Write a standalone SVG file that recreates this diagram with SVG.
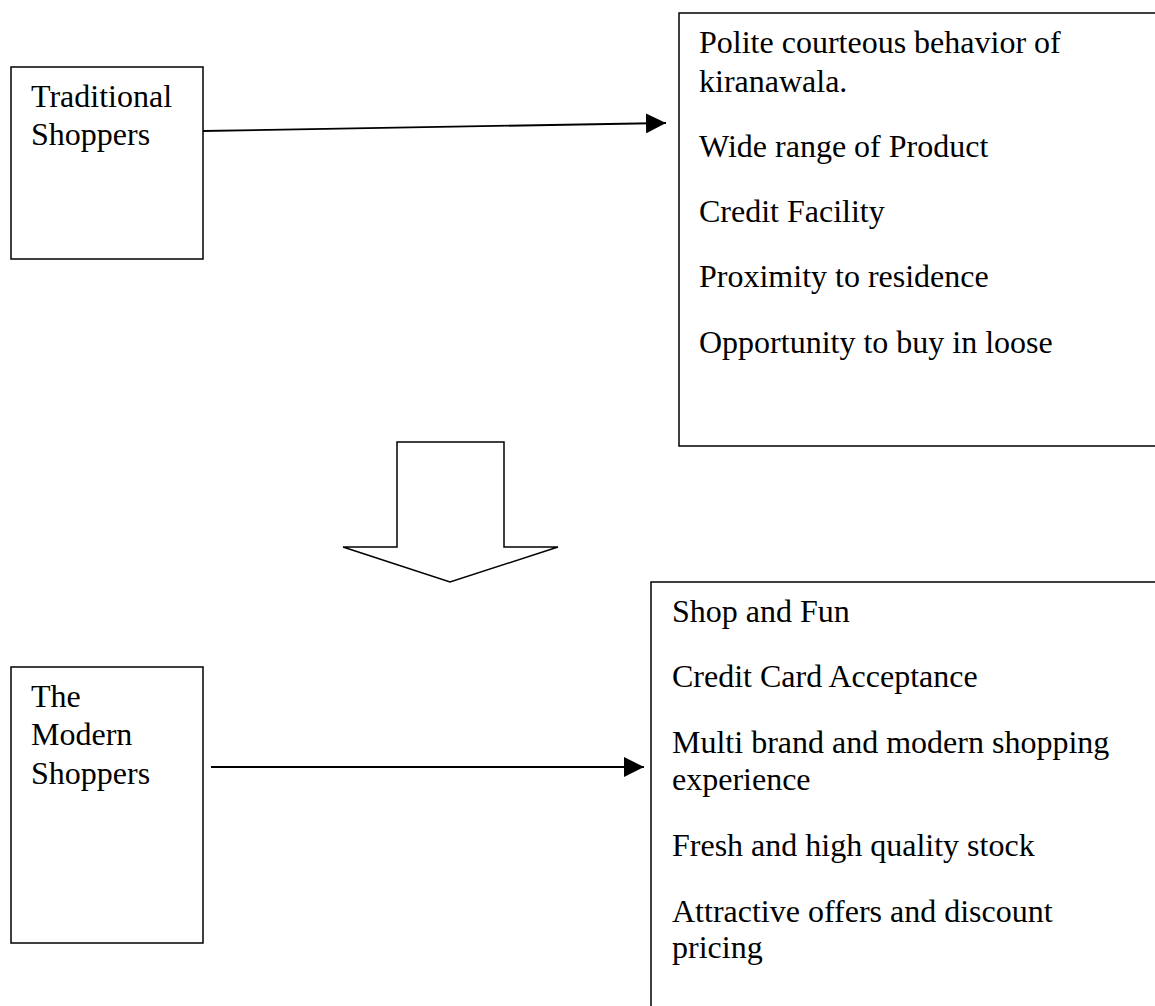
<svg xmlns="http://www.w3.org/2000/svg" width="1155" height="1006" viewBox="0 0 1155 1006">
<style>
.box{fill:#fff;stroke:#000;stroke-width:1.5}
.t{font-family:"Liberation Serif","Times New Roman",serif;font-size:32px;fill:#000}
.conn{stroke:#000;stroke-width:1.8;fill:none}
</style>
<defs>
<marker id="ah" viewBox="0 0 20 20" refX="20" refY="10" markerWidth="20" markerHeight="20" markerUnits="userSpaceOnUse" orient="auto">
<path d="M0,0 L20,10 L0,20 z" fill="#000"/>
</marker>
</defs>
<rect width="1155" height="1006" fill="#fff"/>
<g id="traditional">
<rect class="box" x="11" y="67" width="192" height="192"/>
<text class="t" x="31" y="107">Traditional</text>
<text class="t" x="31" y="145">Shoppers</text>
</g>
<g id="traditional-reasons">
<rect class="box" x="679" y="13" width="490" height="433"/>
<text class="t" x="699" y="53">Polite courteous behavior of</text>
<text class="t" x="699" y="92">kiranawala.</text>
<text class="t" x="699" y="157">Wide range of Product</text>
<text class="t" x="699" y="222">Credit Facility</text>
<text class="t" x="699" y="287">Proximity to residence</text>
<text class="t" x="699" y="353">Opportunity to buy in loose</text>
</g>
<g id="shift-arrow">
<polygon class="box" points="397,442 504,442 504,547 558,547 450,582 343,547 397,547"/>
</g>
<g id="modern">
<rect class="box" x="11" y="667" width="192" height="276"/>
<text class="t" x="31" y="707">The</text>
<text class="t" x="31" y="745">Modern</text>
<text class="t" x="31" y="784">Shoppers</text>
</g>
<g id="modern-reasons">
<rect class="box" x="651" y="582" width="520" height="440"/>
<text class="t" x="672" y="622">Shop and Fun</text>
<text class="t" x="672" y="687">Credit Card Acceptance</text>
<text class="t" x="672" y="753">Multi brand and modern shopping</text>
<text class="t" x="672" y="790">experience</text>
<text class="t" x="672" y="856">Fresh and high quality stock</text>
<text class="t" x="672" y="922">Attractive offers and discount</text>
<text class="t" x="672" y="958">pricing</text>
</g>
<g id="connectors">
<line class="conn" x1="203" y1="131" x2="666" y2="123" marker-end="url(#ah)"/>
<line class="conn" x1="211" y1="767" x2="644" y2="767" marker-end="url(#ah)"/>
</g>
</svg>
